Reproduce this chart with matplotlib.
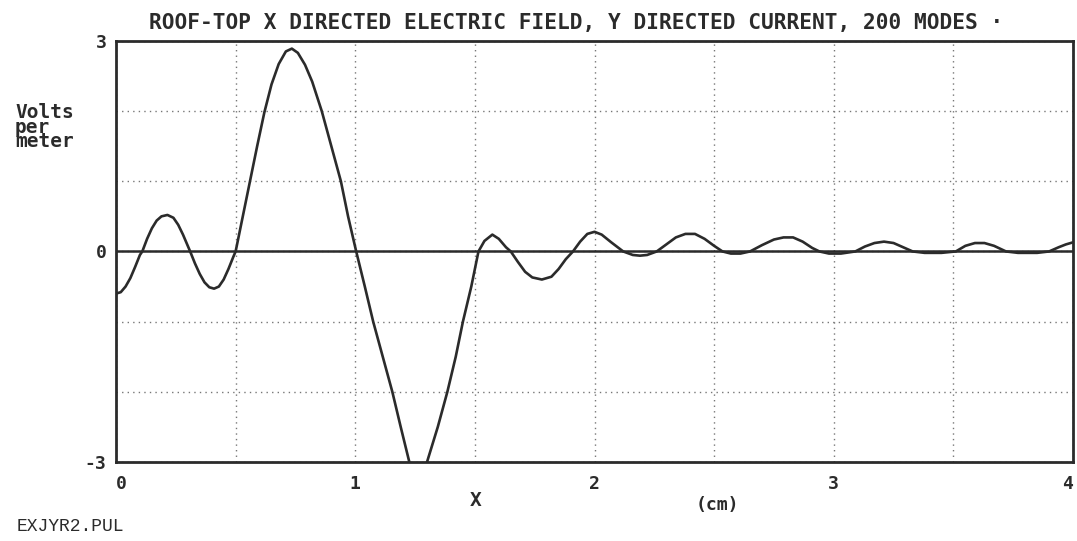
import matplotlib
matplotlib.use("Agg")
import matplotlib.pyplot as plt
import numpy as np

# field values (x in cm, E in V/m)
x_cm = [0.00, 0.02, 0.04, 0.06, 0.08, 0.10, 0.11, 0.13, 0.15, 0.17, 0.19, 0.215,
        0.24, 0.26, 0.28, 0.30, 0.31, 0.33, 0.35, 0.37, 0.39, 0.41, 0.43, 0.45,
        0.47, 0.49, 0.50, 0.53, 0.56, 0.59, 0.62, 0.65, 0.68, 0.71, 0.735, 0.76,
        0.79, 0.82, 0.86, 0.90, 0.94, 0.97, 1.004, 1.04, 1.075, 1.115, 1.155, 1.19,
        1.226, 1.263, 1.30, 1.345, 1.385, 1.42, 1.45, 1.485, 1.515, 1.54, 1.573, 1.60,
        1.63, 1.65, 1.68, 1.71, 1.74, 1.78, 1.82, 1.85, 1.88, 1.91, 1.94, 1.97,
        2.00, 2.03, 2.07, 2.12, 2.16, 2.19, 2.22, 2.26, 2.30, 2.34, 2.38, 2.42,
        2.46, 2.50, 2.535, 2.57, 2.61, 2.65, 2.70, 2.75, 2.79, 2.83, 2.87, 2.91,
        2.94, 2.98, 3.03, 3.09, 3.13, 3.17, 3.21, 3.25, 3.29, 3.33, 3.38, 3.45,
        3.51, 3.55, 3.59, 3.63, 3.67, 3.72, 3.77, 3.85, 3.90, 3.94, 3.97, 4.00]
e_field = [-0.60, -0.58, -0.50, -0.38, -0.22, -0.05, 0.00, 0.18, 0.33, 0.44, 0.50, 0.52,
           0.48, 0.38, 0.24, 0.08, 0.00, -0.17, -0.32, -0.44, -0.51, -0.53, -0.50, -0.40,
           -0.25, -0.08, 0.00, 0.50, 1.00, 1.50, 1.98, 2.38, 2.67, 2.85, 2.89, 2.83,
           2.66, 2.42, 2.00, 1.50, 1.00, 0.50, 0.00, -0.50, -1.00, -1.50, -2.00, -2.50,
           -3.00, -3.25, -3.00, -2.50, -2.00, -1.50, -1.00, -0.50, 0.00, 0.15, 0.24, 0.18,
           0.06, 0.00, -0.15, -0.29, -0.37, -0.40, -0.36, -0.25, -0.11, 0.00, 0.14, 0.25,
           0.28, 0.24, 0.13, 0.00, -0.05, -0.06, -0.05, 0.00, 0.10, 0.20, 0.25, 0.25,
           0.18, 0.08, 0.00, -0.03, -0.03, 0.00, 0.09, 0.17, 0.20, 0.20, 0.14, 0.05,
           0.00, -0.03, -0.03, 0.00, 0.07, 0.12, 0.14, 0.12, 0.06, 0.00, -0.02, -0.02,
           0.00, 0.08, 0.12, 0.12, 0.08, 0.00, -0.02, -0.02, 0.00, 0.06, 0.10, 0.13]

x_ticks = [0, 1, 2, 3, 4]
y_ticks = [-3, -2, -1, 0, 1, 2, 3]
y_labels = ["-3", "", "", "0", "", "", "3"]

ink = "#2b2b2b"
mono = "DejaVu Sans Mono"

fig = plt.figure(figsize=(10.77, 5.41), dpi=100)
ax = fig.add_axes([0.1077, 0.146, 0.8886, 0.7784])

ax.plot(x_cm, e_field, color=ink, lw=1.9, zorder=3)
ax.axhline(0, color=ink, lw=1.8, zorder=2)

ax.set_xlim(0, 4)
ax.set_ylim(-3, 3)
ax.set_xticks(x_ticks)
ax.set_xticks(np.arange(0.5, 4, 1.0), minor=True)
ax.set_xticklabels([str(t) for t in x_ticks])
ax.set_yticks(y_ticks)
ax.set_yticklabels(y_labels)
ax.tick_params(which="both", length=0)
ax.tick_params(axis="x", pad=9)
ax.tick_params(axis="y", pad=7)
for lab in ax.get_xticklabels() + ax.get_yticklabels():
    lab.set_fontfamily(mono)
    lab.set_fontweight("bold")
    lab.set_fontsize(13)
    lab.set_color(ink)
ax.get_xticklabels()[0].set_ha("left")
ax.get_xticklabels()[-1].set_ha("right")

ax.grid(True, which="both", color="#777777", ls=(0, (1, 3)), lw=1.0)
for s in ax.spines.values():
    s.set_color(ink)
    s.set_linewidth(2)

fig.text(0.535, 0.958, "ROOF-TOP X DIRECTED ELECTRIC FIELD, Y DIRECTED CURRENT, 200 MODES \u00b7",
         ha="center", va="center", family=mono, weight="bold", fontsize=15.2, color=ink)
fig.text(0.014, 0.765, "Volts\nper\nmeter", ha="left", va="center", family=mono,
         weight="bold", fontsize=14, linespacing=0.72, color=ink)
fig.text(0.442, 0.075, "X", ha="center", va="center", family=mono, weight="bold",
         fontsize=14, color=ink)
fig.text(0.666, 0.066, "(cm)", ha="center", va="center", family=mono, weight="bold",
         fontsize=13, color=ink)
fig.text(0.015, 0.026, "EXJYR2.PUL", ha="left", va="center", family="Liberation Mono",
         fontsize=13, color=ink)

fig.savefig("out.png", dpi=100, facecolor="white")
